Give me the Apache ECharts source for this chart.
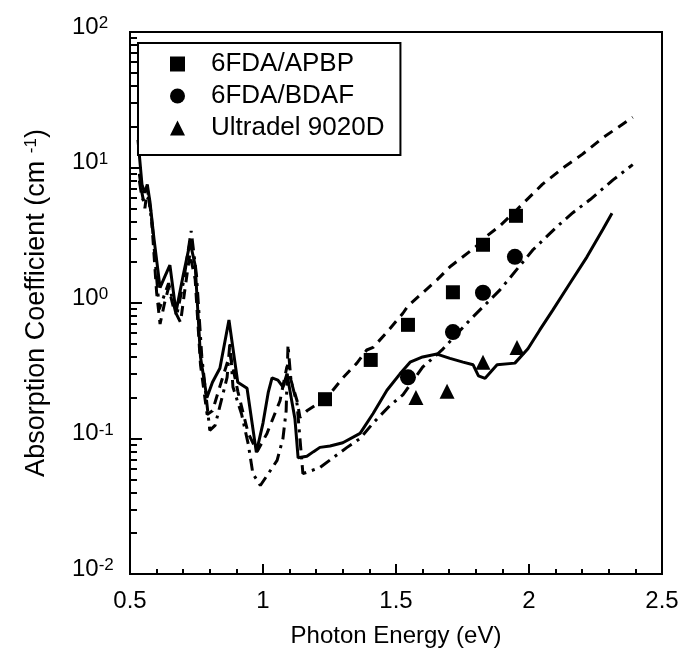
<!DOCTYPE html>
<html><head><meta charset="utf-8">
<script src="https://cdn.jsdelivr.net/npm/echarts@6/dist/echarts.min.js"></script>
<style>html,body{margin:0;padding:0;background:#fff}#c{width:683px;height:654px}</style>
</head><body><div id="c"></div>
<script>
// ---- data ----
const xTickLabels = ['0.5','1','1.5','2','2.5'];
const yExponents = [-2,-1,0,1,2];

const apbpPts = [[1.233,0.195],[1.405,0.38],[1.545,0.69],[1.714,1.2],[1.827,2.69],[1.951,4.4]];
const bdafPts = [[1.545,0.283],[1.714,0.61],[1.827,1.19],[1.947,2.19]];
const ultraPts = [[1.575,0.201],[1.692,0.223],[1.827,0.366],[1.955,0.47]];

const ultraCurve = [[0.53,16],[0.545,7.5],[0.555,6.5],[0.565,7.5],[0.575,5.6],[0.59,3.0],[0.613,1.3],[0.63,1.55],[0.65,1.9],[0.673,0.86],[0.70,1.6],[0.726,2.8],[0.745,1.9],[0.765,0.4],[0.789,0.2],[0.81,0.26],[0.838,0.33],[0.872,0.75],[0.905,0.26],[0.94,0.235],[0.975,0.079],[1.0,0.13],[1.02,0.22],[1.034,0.28],[1.056,0.27],[1.075,0.24],[1.09,0.3],[1.12,0.14],[1.132,0.072],[1.165,0.074],[1.19,0.08],[1.214,0.086],[1.252,0.088],[1.30,0.093],[1.365,0.109],[1.414,0.153],[1.466,0.227],[1.515,0.30],[1.553,0.366],[1.60,0.40],[1.654,0.42],[1.703,0.39],[1.752,0.366],[1.79,0.35],[1.81,0.29],[1.835,0.278],[1.88,0.35],[1.947,0.36],[1.996,0.46],[2.04,0.63],[2.09,0.89],[2.154,1.4],[2.218,2.19],[2.278,3.5],[2.312,4.6]];

const apbpCurve = [[0.535,9],[0.545,6.5],[0.556,5],[0.565,7],[0.58,4.5],[0.60,1.2],[0.613,0.7],[0.63,1.0],[0.645,1.3],[0.665,0.9],[0.69,0.72],[0.705,1.2],[0.725,2.3],[0.745,1.5],[0.765,0.35],[0.79,0.15],[0.81,0.16],[0.84,0.25],[0.876,0.42],[0.906,0.22],[0.944,0.11],[0.978,0.08],[1.015,0.109],[1.064,0.19],[1.09,0.34],[1.11,0.25],[1.128,0.19],[1.139,0.143],[1.165,0.16],[1.24,0.2],[1.30,0.28],[1.353,0.36],[1.39,0.45],[1.414,0.47],[1.466,0.61],[1.526,0.84],[1.545,0.95],[1.654,1.48],[1.703,1.85],[1.80,2.6],[1.83,3.0],[1.89,3.7],[1.955,4.9],[2.05,7.5],[2.13,10],[2.2,12.5],[2.28,16.7],[2.39,23.5]];

const bdafCurve = [[0.535,8],[0.545,6],[0.556,5.5],[0.57,6],[0.585,3.5],[0.61,0.9],[0.645,1.4],[0.675,0.8],[0.70,1.4],[0.73,3.4],[0.75,1.6],[0.77,0.4],[0.80,0.115],[0.82,0.125],[0.865,0.283],[0.876,0.52],[0.887,0.24],[0.92,0.15],[0.945,0.09],[0.962,0.055],[0.99,0.045],[1.02,0.055],[1.053,0.069],[1.075,0.1],[1.087,0.16],[1.094,0.49],[1.105,0.27],[1.128,0.18],[1.15,0.055],[1.214,0.061],[1.263,0.072],[1.316,0.086],[1.365,0.1],[1.414,0.13],[1.477,0.175],[1.526,0.21],[1.60,0.336],[1.673,0.45],[1.778,0.75],[1.891,1.25],[2.015,2.47],[2.105,3.66],[2.165,4.64],[2.23,5.8],[2.316,8.1],[2.39,10.5]];

// ---- chart ----
const FONT = '"Liberation Sans", Arial, sans-serif';
const yMinor = [];
for (let e = -2; e < 2; e++) for (let k = 2; k <= 9; k++) yMinor.push(+(k * Math.pow(10, e)).toPrecision(3));
const bl = {color: '#000', width: 2};

const chart = echarts.init(document.getElementById('c'));
chart.setOption({
  backgroundColor: '#fff',
  animation: false,
  grid: {left: 130, right: 21, top: 32, bottom: 80, show: false},
  legend: {
    data: ['6FDA/APBP', '6FDA/BDAF', 'Ultradel 9020D'],
    orient: 'vertical', left: 138, top: 43,
    itemWidth: 15, itemHeight: 15, itemGap: 6,
    padding: [8, 16, 14, 32],
    borderColor: '#000', borderWidth: 2, backgroundColor: '#fff',
    itemStyle: {opacity: 1},
    textStyle: {fontFamily: FONT, fontSize: 26, color: '#000', padding: [0, 0, 0, 21], lineHeight: 24}
  },
  xAxis: {
    type: 'value', min: 0.5, max: 2.5, interval: 0.5,
    name: 'Photon Energy (eV)', nameLocation: 'middle', nameGap: 50,
    nameTextStyle: {fontFamily: FONT, fontSize: 24, color: '#000'},
    axisLine: {show: true, onZero: false, lineStyle: bl},
    axisTick: {show: true, inside: true, length: 10, lineStyle: bl},
    minorTick: {show: true, splitNumber: 5, length: 5, lineStyle: bl},
    splitLine: {show: false},
    axisLabel: {fontFamily: FONT, fontSize: 24, color: '#000', margin: 15,
      formatter: v => xTickLabels[Math.round((v - 0.5) / 0.5)]}
  },
  yAxis: [{
    type: 'log', min: 0.01, max: 100,
    name: 'Absorption Coefficient (cm {s|-1})', nameLocation: 'middle', nameGap: 80, nameRotate: 90,
    nameTextStyle: {fontFamily: FONT, fontSize: 27, color: '#000', rich: {s: {fontFamily: FONT, fontSize: 17, color: '#000', verticalAlign: 'top'}}},
    axisLine: {show: true, onZero: false, lineStyle: bl},
    axisTick: {show: true, inside: true, length: 12, lineStyle: bl},
    splitLine: {show: false},
    axisLabel: {
      margin: 58, align: 'left', padding: [0, 0, 10, 0],
      formatter: v => { const e = Math.round(Math.log10(v)); return yExponents.includes(e) ? '{b|10}{s|' + e + '}' : ''; },
      rich: {
        b: {fontFamily: FONT, fontSize: 24, color: '#000', verticalAlign: 'bottom'},
        s: {fontFamily: FONT, fontSize: 17, color: '#000', verticalAlign: 'top'}
      }
    }
  }, {
    type: 'log', min: 0.01, max: 100, position: 'left',
    axisLine: {show: false}, axisLabel: {show: false}, splitLine: {show: false},
    axisTick: {show: true, inside: true, length: 7, customValues: yMinor, lineStyle: bl}
  }],
  series: [
    {name: 'APBP curve', type: 'line', data: apbpCurve, showSymbol: false, silent: true,
      lineStyle: {color: '#000', width: 3, type: [10, 7]}},
    {name: 'BDAF curve', type: 'line', data: bdafCurve, showSymbol: false, silent: true,
      lineStyle: {color: '#000', width: 3, type: [12, 6, 3, 6]}},
    {name: 'Ultradel curve', type: 'line', data: ultraCurve, showSymbol: false, silent: true,
      lineStyle: {color: '#000', width: 3}},
    {name: '6FDA/APBP', type: 'scatter', data: apbpPts, symbol: 'rect', symbolSize: 14, itemStyle: {color: '#000', opacity: 1}},
    {name: '6FDA/BDAF', type: 'scatter', data: bdafPts, symbol: 'circle', symbolSize: 16, itemStyle: {color: '#000', opacity: 1}},
    {name: 'Ultradel 9020D', type: 'scatter', data: ultraPts, symbol: 'triangle', symbolSize: 15, itemStyle: {color: '#000', opacity: 1}}
  ]
});
// plot frame (top and right edges) derived from the axis extents
const tl = chart.convertToPixel({gridIndex: 0}, [0.5, 100]);
const br = chart.convertToPixel({gridIndex: 0}, [2.5, 0.01]);
chart.setOption({graphic: [{type: 'rect', silent: true, z: 0,
  shape: {x: tl[0], y: tl[1], width: br[0] - tl[0], height: br[1] - tl[1]},
  style: {fill: 'none', stroke: '#000', lineWidth: 2}}]});
</script></body></html>
